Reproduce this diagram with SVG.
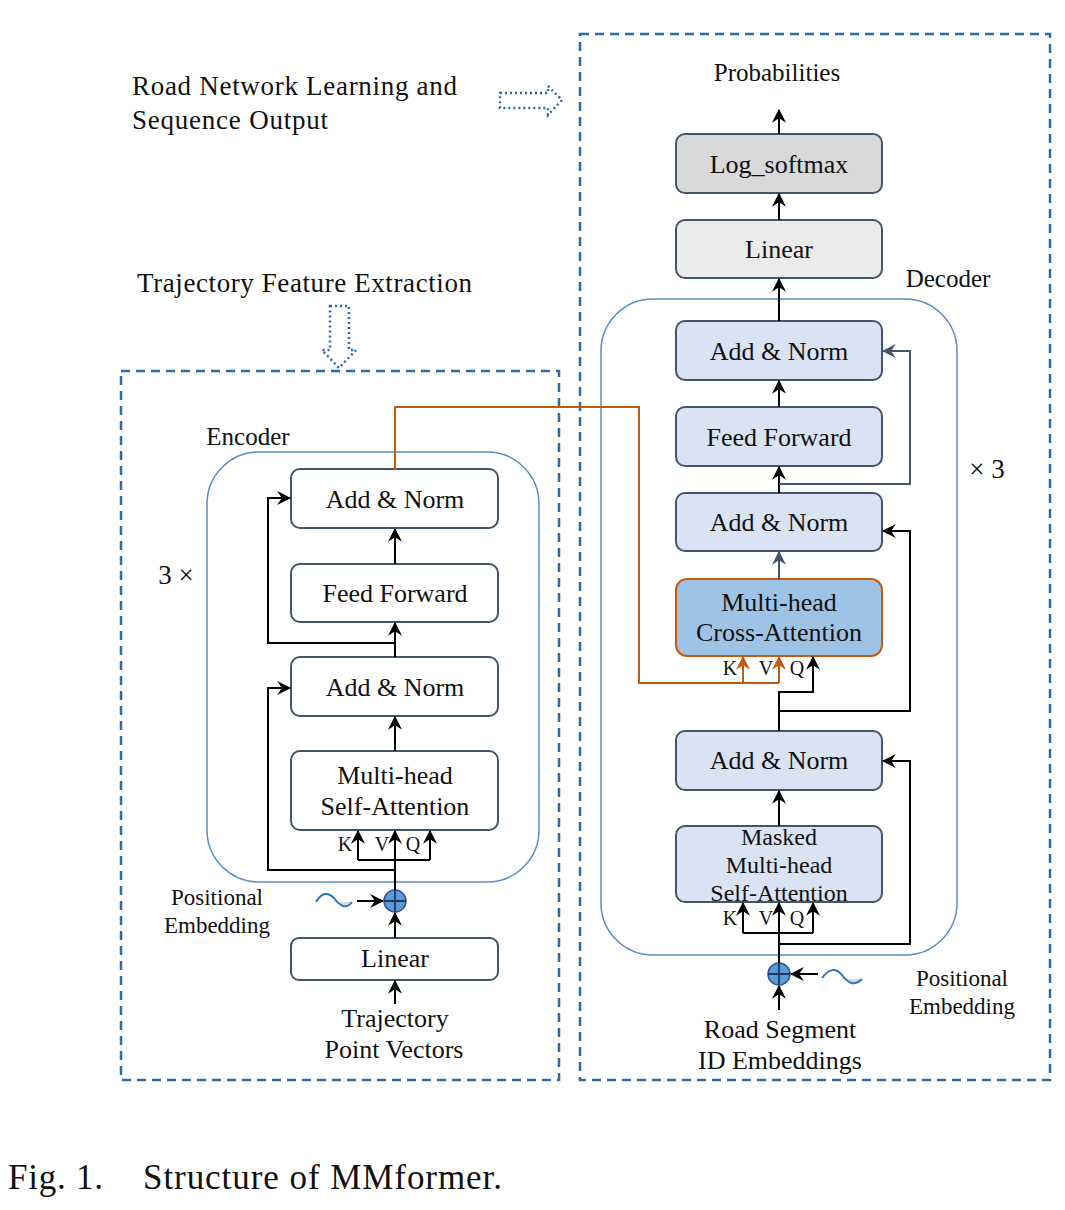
<svg xmlns="http://www.w3.org/2000/svg" width="1065" height="1210" viewBox="0 0 1065 1210">
<defs>
<marker id="ah" markerUnits="userSpaceOnUse" markerWidth="14" markerHeight="14" viewBox="0 0 12 12" refX="11" refY="6" orient="auto">
<path d="M0,0 L12,6 L0,12 L4,6 z" fill="#000"/>
</marker>
<marker id="ahs" markerUnits="userSpaceOnUse" markerWidth="14" markerHeight="14" viewBox="0 0 12 12" refX="11" refY="6" orient="auto">
<path d="M0,0 L12,6 L0,12 L4,6 z" fill="#44546a"/>
</marker>
<marker id="aho" markerUnits="userSpaceOnUse" markerWidth="14" markerHeight="14" viewBox="0 0 12 12" refX="11" refY="6" orient="auto">
<path d="M0,0 L12,6 L0,12 L4,6 z" fill="#c55a11"/>
</marker>
<style>
text{font-family:"Liberation Serif","Times New Roman",serif;fill:#111}
.lbl{font-size:26px;text-anchor:middle}
.big{font-size:27px}
.kvq{font-size:20px;text-anchor:middle}
.dash{fill:none;stroke:#2e6aa3;stroke-width:2.5;stroke-dasharray:9,6}
.cont{fill:none;stroke:#5b8cc0;stroke-width:1.5}
.nw{fill:#fff;stroke:#44546a;stroke-width:2}
.nb{fill:#dae3f3;stroke:#44546a;stroke-width:2}
.ln{fill:none;stroke:#000;stroke-width:2}
.ls{fill:none;stroke:#44546a;stroke-width:2}
.lo{fill:none;stroke:#c55a11;stroke-width:2}
.dot{fill:none;stroke:#2e6aa3;stroke-width:2.5;stroke-dasharray:2,3}
.plus{fill:#5b9bd5;stroke:#2f5597;stroke-width:1.5}
.sine{fill:none;stroke:#2e75b6;stroke-width:2}
</style>
</defs>
<g id="frames">
<rect class="dash" x="121" y="371" width="438" height="709"/>
<rect class="dash" x="580" y="34" width="470" height="1046"/>
<rect class="cont" x="207" y="452" width="332" height="430" rx="52"/>
<rect class="cont" x="601" y="299" width="356" height="656" rx="52"/>
</g>
<g id="titles">
<text class="big" x="132" y="95" textLength="325" lengthAdjust="spacing">Road Network Learning and</text>
<text class="big" x="132" y="129" textLength="196" lengthAdjust="spacing">Sequence Output</text>
<text class="big" x="137" y="292" textLength="335" lengthAdjust="spacing">Trajectory Feature Extraction</text>
<path class="dot" d="M500,93 L548,93 L548,86 L562,100 L548,115 L548,108 L500,108 Z"/>
<path class="dot" d="M330,306 L349,306 L349,350 L356,350 L339,368 L322,350 L330,350 Z"/>
<text class="lbl" x="248" y="445" style="font-size:25px">Encoder</text>
<text class="lbl" x="948" y="287" style="font-size:25px">Decoder</text>
<text class="lbl" x="176" y="584" style="font-size:27px">3 ×</text>
<text class="lbl" x="987" y="478" style="font-size:27px">× 3</text>
<text x="8" y="1189" style="font-size:35px" textLength="95" lengthAdjust="spacing">Fig. 1.</text>
<text x="143" y="1189" style="font-size:35px" textLength="359" lengthAdjust="spacing">Structure of MMformer.</text>
</g>
<g id="enc-addnorm2"><rect class="nw" x="291" y="469" width="207" height="59" rx="9"/><text class="lbl" x="395" y="508">Add &amp; Norm</text></g>
<g id="enc-ff"><rect class="nw" x="291" y="564" width="207" height="58" rx="9"/><text class="lbl" x="395" y="602">Feed Forward</text></g>
<g id="enc-addnorm1"><rect class="nw" x="291" y="657" width="207" height="59" rx="9"/><text class="lbl" x="395" y="696">Add &amp; Norm</text></g>
<g id="enc-mhsa"><rect class="nw" x="291" y="751" width="207" height="79" rx="9"/><text class="lbl" x="395" y="784">Multi-head</text><text class="lbl" x="395" y="815">Self-Attention</text></g>
<g id="enc-linear"><rect class="nw" x="291" y="938" width="207" height="42" rx="8"/><text class="lbl" x="395" y="967">Linear</text></g>
<g id="enc-pe">
<path d="M334,898 C340,906 346,910 352,902 L334,902 Z" fill="#d9d9d9"/>
<path class="sine" d="M316,902 C322,892 328,892 334,898 C340,906 346,910 352,902"/>
<circle class="plus" cx="395" cy="901" r="11"/>
<path d="M384,901 H406 M395,890 V912" stroke="#1f3864" stroke-width="1.8"/>
<text class="lbl" x="217" y="905" style="font-size:23px">Positional</text>
<text class="lbl" x="217" y="933" style="font-size:23px">Embedding</text>
</g>
<g id="enc-input"><text class="lbl" x="395" y="1027">Trajectory</text><text class="lbl" x="394" y="1058">Point Vectors</text></g>

<g id="dec-logsoftmax"><rect x="676" y="134" width="206" height="59" rx="9" fill="#d9d9d9" stroke="#44546a" stroke-width="2"/><text class="lbl" x="779" y="173">Log_softmax</text></g>
<g id="dec-linear"><rect x="676" y="220" width="206" height="58" rx="9" fill="#ebebeb" stroke="#44546a" stroke-width="2"/><text class="lbl" x="779" y="258">Linear</text></g>
<g id="dec-addnorm3"><rect class="nb" x="676" y="321" width="206" height="59" rx="9"/><text class="lbl" x="779" y="360">Add &amp; Norm</text></g>
<g id="dec-ff"><rect class="nb" x="676" y="407" width="206" height="59" rx="9"/><text class="lbl" x="779" y="446">Feed Forward</text></g>
<g id="dec-addnorm2"><rect class="nb" x="676" y="493" width="206" height="58" rx="9"/><text class="lbl" x="779" y="531">Add &amp; Norm</text></g>
<g id="dec-cross"><rect x="676" y="579" width="206" height="77" rx="11" fill="#9dc3e6" stroke="#c55a11" stroke-width="2"/><text class="lbl" x="779" y="611">Multi-head</text><text class="lbl" x="779" y="641">Cross-Attention</text></g>
<g id="dec-addnorm1"><rect class="nb" x="676" y="731" width="206" height="59" rx="9"/><text class="lbl" x="779" y="769">Add &amp; Norm</text></g>
<g id="dec-masked"><rect class="nb" x="676" y="826" width="206" height="76" rx="9"/><text class="lbl" x="779" y="845" style="font-size:24px">Masked</text><text class="lbl" x="779" y="873" style="font-size:24px">Multi-head</text><text class="lbl" x="779" y="901" style="font-size:24px">Self-Attention</text></g>
<g id="dec-pe">
<path d="M842,975 C848,983 854,987 862,979 L842,979 Z" fill="#d9d9d9"/>
<path class="sine" d="M822,978 C829,968 836,968 842,975 C848,983 854,987 862,979"/>
<circle class="plus" cx="779" cy="974" r="11"/>
<path d="M768,974 H790 M779,963 V985" stroke="#1f3864" stroke-width="1.8"/>
<text class="lbl" x="962" y="986" style="font-size:23px">Positional</text>
<text class="lbl" x="962" y="1014" style="font-size:23px">Embedding</text>
</g>
<g id="dec-top"><text class="lbl" x="777" y="81" style="font-size:25px">Probabilities</text></g>
<g id="dec-input"><text class="lbl" x="780" y="1038">Road Segment</text><text class="lbl" x="780" y="1069">ID Embeddings</text></g>

<g id="connectors">
<line class="ln" x1="395" y1="1004" x2="395" y2="981" marker-end="url(#ah)"/>
<line class="ln" x1="395" y1="938" x2="395" y2="913" marker-end="url(#ah)"/>
<line class="ln" x1="357" y1="901" x2="383" y2="901" marker-end="url(#ah)"/>
<line class="ln" x1="395" y1="890" x2="395" y2="831" marker-end="url(#ah)"/>
<path class="ln" d="M358,860 H430"/>
<line class="ln" x1="358" y1="860" x2="358" y2="831" marker-end="url(#ah)"/>
<line class="ln" x1="430" y1="860" x2="430" y2="831" marker-end="url(#ah)"/>
<path class="ln" d="M395,870 H268 V688 H290" marker-end="url(#ah)"/>
<line class="ln" x1="395" y1="751" x2="395" y2="717" marker-end="url(#ah)"/>
<line class="ln" x1="395" y1="657" x2="395" y2="623" marker-end="url(#ah)"/>
<path class="ln" d="M395,643 H268 V498 H290" marker-end="url(#ah)"/>
<line class="ln" x1="395" y1="564" x2="395" y2="529" marker-end="url(#ah)"/>
<text class="kvq" x="345" y="851">K</text><text class="kvq" x="382" y="851">V</text><text class="kvq" x="413" y="851">Q</text>
<path class="lo" d="M395,469 V407 H639 V683 H779"/>
<line class="lo" x1="743" y1="683" x2="743" y2="657" marker-end="url(#aho)"/>
<line class="lo" x1="779" y1="683" x2="779" y2="657" marker-end="url(#aho)"/>
<line class="ln" x1="779" y1="1010" x2="779" y2="986" marker-end="url(#ah)"/>
<line class="ln" x1="818" y1="974" x2="791" y2="974" marker-end="url(#ah)"/>
<line class="ln" x1="779" y1="963" x2="779" y2="903" marker-end="url(#ah)"/>
<path class="ln" d="M743,933 H813"/>
<line class="ln" x1="743" y1="933" x2="743" y2="903" marker-end="url(#ah)"/>
<line class="ln" x1="813" y1="933" x2="813" y2="903" marker-end="url(#ah)"/>
<path class="ln" d="M779,944 H910 V761 H883" marker-end="url(#ah)"/>
<text class="kvq" x="730" y="925">K</text><text class="kvq" x="766" y="925">V</text><text class="kvq" x="797" y="925">Q</text>
<line class="ln" x1="779" y1="826" x2="779" y2="791" marker-end="url(#ah)"/>
<path class="ln" d="M779,731 V692 H813 V657" marker-end="url(#ah)"/>
<path class="ln" d="M779,711 H910 V531 H883" marker-end="url(#ah)"/>
<text class="kvq" x="730" y="675">K</text><text class="kvq" x="766" y="675">V</text><text class="kvq" x="797" y="675">Q</text>
<line class="ls" x1="779" y1="579" x2="779" y2="552" marker-end="url(#ahs)"/>
<line class="ln" x1="779" y1="493" x2="779" y2="467" marker-end="url(#ah)"/>
<path class="ls" d="M779,484 H910 V351 H883" marker-end="url(#ahs)"/>
<line class="ln" x1="779" y1="407" x2="779" y2="381" marker-end="url(#ah)"/>
<line class="ln" x1="779" y1="321" x2="779" y2="279" marker-end="url(#ah)"/>
<line class="ln" x1="779" y1="220" x2="779" y2="194" marker-end="url(#ah)"/>
<line class="ln" x1="779" y1="134" x2="779" y2="110" marker-end="url(#ah)"/>
</g>
</svg>
